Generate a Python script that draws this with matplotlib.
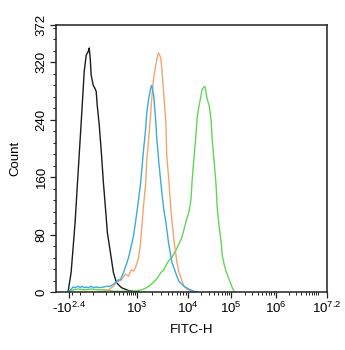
import numpy as np
import matplotlib
matplotlib.use("Agg")
import matplotlib.pyplot as plt
from matplotlib.ticker import FixedLocator

plt.rcParams['font.family'] = ['Liberation Sans', 'DejaVu Sans']
plt.rcParams['mathtext.default'] = 'regular'

# FITC-H intensity and count for each histogram
black_x = [-271, -216, -185, -158, -122, -101, -82, -65, -49, -34, -27, -20, -13, 1, 15, 22, 29,
           44, 60, 77, 95, 115, 150, 191, 240, 347, 571, 811, 1094]
black_y = [0, 27, 62, 97, 167, 213, 260, 307, 330, 335, 340, 326, 302, 288, 283, 279, 260,
           232, 195, 153, 119, 83, 55, 27, 13, 6, 2, 1, 0]

blue_x = [-271, -216, -185, -158, -122, -101, -82, -65, -49, -34, -13, 1, 22, 44, 77, 115, 150,
          191, 240, 278, 322, 400, 496, 571, 705, 811, 932, 1094, 1198, 1253, 1371, 1501, 1570,
          1718, 1884, 1968, 2154, 2360, 2466, 2698, 3090, 3381, 3707, 4236, 4853, 5309, 6081,
          6668, 8356, 10550, 13800, 16190]
blue_y = [0, 4, 7, 6, 8, 6, 8, 6, 7, 6, 8, 6, 7, 6, 7, 8, 8,
          11, 14, 17, 17, 27, 39, 48, 66, 79, 98, 129, 152, 168, 199, 227, 248,
          269, 284, 288, 274, 239, 216, 182, 140, 115, 98, 66, 42, 34, 22,
          15, 8, 4, 1, 0]

orange_x = [37, 77, 126, 191, 240, 278, 347, 400, 462, 571, 657, 705, 811, 932, 1094, 1198,
            1253, 1371, 1501, 1570, 1718, 1884, 1968, 2154, 2360, 2582, 2698, 2958, 3090, 3381,
            3707, 3873, 4236, 4645, 5309, 6081, 6668, 7295, 8356, 9550, 11740, 13800]
orange_y = [0, 1, 3, 8, 13, 15, 17, 21, 25, 22, 29, 31, 29, 34, 48, 69,
            87, 122, 150, 181, 213, 248, 269, 298, 316, 330, 333, 326, 312, 276,
            237, 189, 157, 115, 73, 42, 28, 20, 8, 4, 1, 0]

green_x = [-271, -185, -122, -65, -13, 37, 95, 191, 400, 811, 1253, 1570, 1884, 2154, 2466,
           2958, 3381, 4236, 4853, 5821, 6668, 7621, 8356, 9141, 10550, 11740, 12390, 13800,
           15350, 16190, 18030, 20050, 21170, 23560, 24850, 27670, 30780, 34270, 36140, 40270,
           44770, 47210, 52600, 58480, 61800, 68710, 76560, 89750, 105400, 117000]
green_y = [0, 3, 4, 3, 4, 3, 3, 1, 1, 1, 3, 6, 10, 14, 18,
           27, 31, 44, 48, 58, 67, 76, 87, 98, 112, 129, 153, 188,
           220, 241, 260, 274, 282, 286, 286, 269, 260, 239, 213, 181,
           147, 118, 91, 69, 51, 38, 28, 17, 6, 0]

xticks = [-10 ** 2.4, 1e3, 1e4, 1e5, 1e6, 10 ** 7.2]
xticklabels = ['-$10^{2.4}$', '$10^{3}$', '$10^{4}$', '$10^{5}$', '$10^{6}$', '$10^{7.2}$']
yticks = [0, 80, 160, 240, 320, 372]

# biexponential-like axis: piecewise in asinh space between the labelled ticks
anchor_a = np.arcsinh(np.array(xticks) / 100)
anchor_p = np.array([71, 138, 189, 232, 276, 327], dtype=float)
s0 = (anchor_p[1] - anchor_p[0]) / (anchor_a[1] - anchor_a[0])
s1 = (anchor_p[-1] - anchor_p[-2]) / (anchor_a[-1] - anchor_a[-2])
A = np.concatenate([[anchor_a[0] - 50], anchor_a, [anchor_a[-1] + 50]])
P = np.concatenate([[anchor_p[0] - 50 * s0], anchor_p, [anchor_p[-1] + 50 * s1]])


def fwd(x):
    return np.interp(np.arcsinh(np.asarray(x, dtype=float) / 100), A, P)


def inv(p):
    return 100 * np.sinh(np.interp(np.asarray(p, dtype=float), P, A))


fig = plt.figure(figsize=(3.45, 3.5), dpi=100)
ax = fig.add_axes([56 / 345, 58 / 350, 271 / 345, 267 / 350])
ax.set_xscale('function', functions=(fwd, inv))

lw = 1.0
ax.plot(black_x, black_y, color='#1c1c1c', lw=lw)
ax.plot(green_x, green_y, color='#62d656', lw=lw)
ax.plot(orange_x, orange_y, color='#f2a66e', lw=lw)
ax.plot(blue_x, blue_y, color='#3dabdc', lw=lw)

ax.set_xlim(inv(58), 10 ** 7.2)
ax.set_ylim(0, 372)

ax.xaxis.set_major_locator(FixedLocator(xticks))
ax.set_xticklabels(xticklabels, fontsize=9.5)
minor_x = [-200, -100, 0, 100, 200, 300, 400, 500, 600, 700, 800, 900]
for d in [1e3, 1e4, 1e5, 1e6]:
    minor_x += [k * d for k in range(2, 10)]
minor_x += [1e7]
ax.xaxis.set_minor_locator(FixedLocator(minor_x))

ax.yaxis.set_major_locator(FixedLocator(yticks))
ax.yaxis.set_minor_locator(FixedLocator(list(range(16, 372, 16))))
ax.set_yticklabels([str(v) for v in yticks], fontsize=9.5, rotation=90, va='center')

ax.tick_params(which='major', direction='out', length=4, width=0.9, pad=2, color='#222222')
ax.tick_params(which='minor', direction='out', length=2, width=0.7, color='#222222')
for sp in ax.spines.values():
    sp.set_linewidth(1.1)
    sp.set_color('#222222')

ax.set_xlabel('FITC-H', fontsize=9.5, labelpad=6)
ax.set_ylabel('Count', fontsize=9.5, labelpad=10)

fig.savefig('out.png', dpi=100, facecolor='white')
